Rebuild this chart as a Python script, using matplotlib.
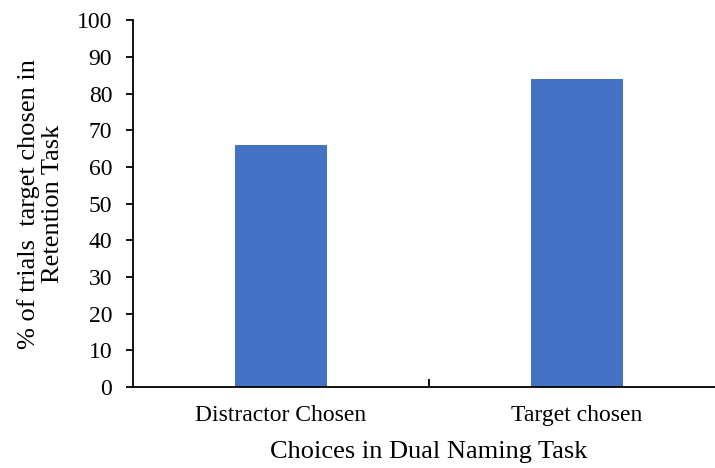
import matplotlib.pyplot as plt
from matplotlib.ticker import FixedLocator

categories = ['Distractor Chosen', 'Target chosen']
values = [66, 84]

plt.rcParams['font.family'] = ['Liberation Serif', 'DejaVu Serif']

fig = plt.figure(figsize=(7.15, 4.68), dpi=100)
ax = fig.add_axes([0.186, 0.173, 0.828, 0.784])

x = range(len(categories))
ax.bar(x, values, width=0.31, color='#4472C4')

ax.set_xlim(-0.5, 1.5)
ax.set_ylim(0, 100)
ax.set_yticks(range(0, 101, 10))
ax.set_xticks(list(x))
ax.set_xticklabels(categories, fontsize=17)
ax.tick_params(axis='x', which='major', length=0, pad=13)
ax.xaxis.set_minor_locator(FixedLocator([0.5]))
ax.tick_params(axis='x', which='minor', direction='in', length=6, width=1.3)
ax.tick_params(axis='y', labelsize=17, length=5, width=1.3, direction='out', pad=10)

for s in ['top', 'right']:
    ax.spines[s].set_visible(False)
for s in ['left', 'bottom']:
    ax.spines[s].set_linewidth(1.3)

ax.set_xlabel('Choices in Dual Naming Task', fontsize=19, labelpad=11)
ax.set_ylabel('% of trials  target chosen in\nRetention Task', fontsize=19,
              labelpad=9, linespacing=1.15)

fig.savefig('out.png', dpi=100)
